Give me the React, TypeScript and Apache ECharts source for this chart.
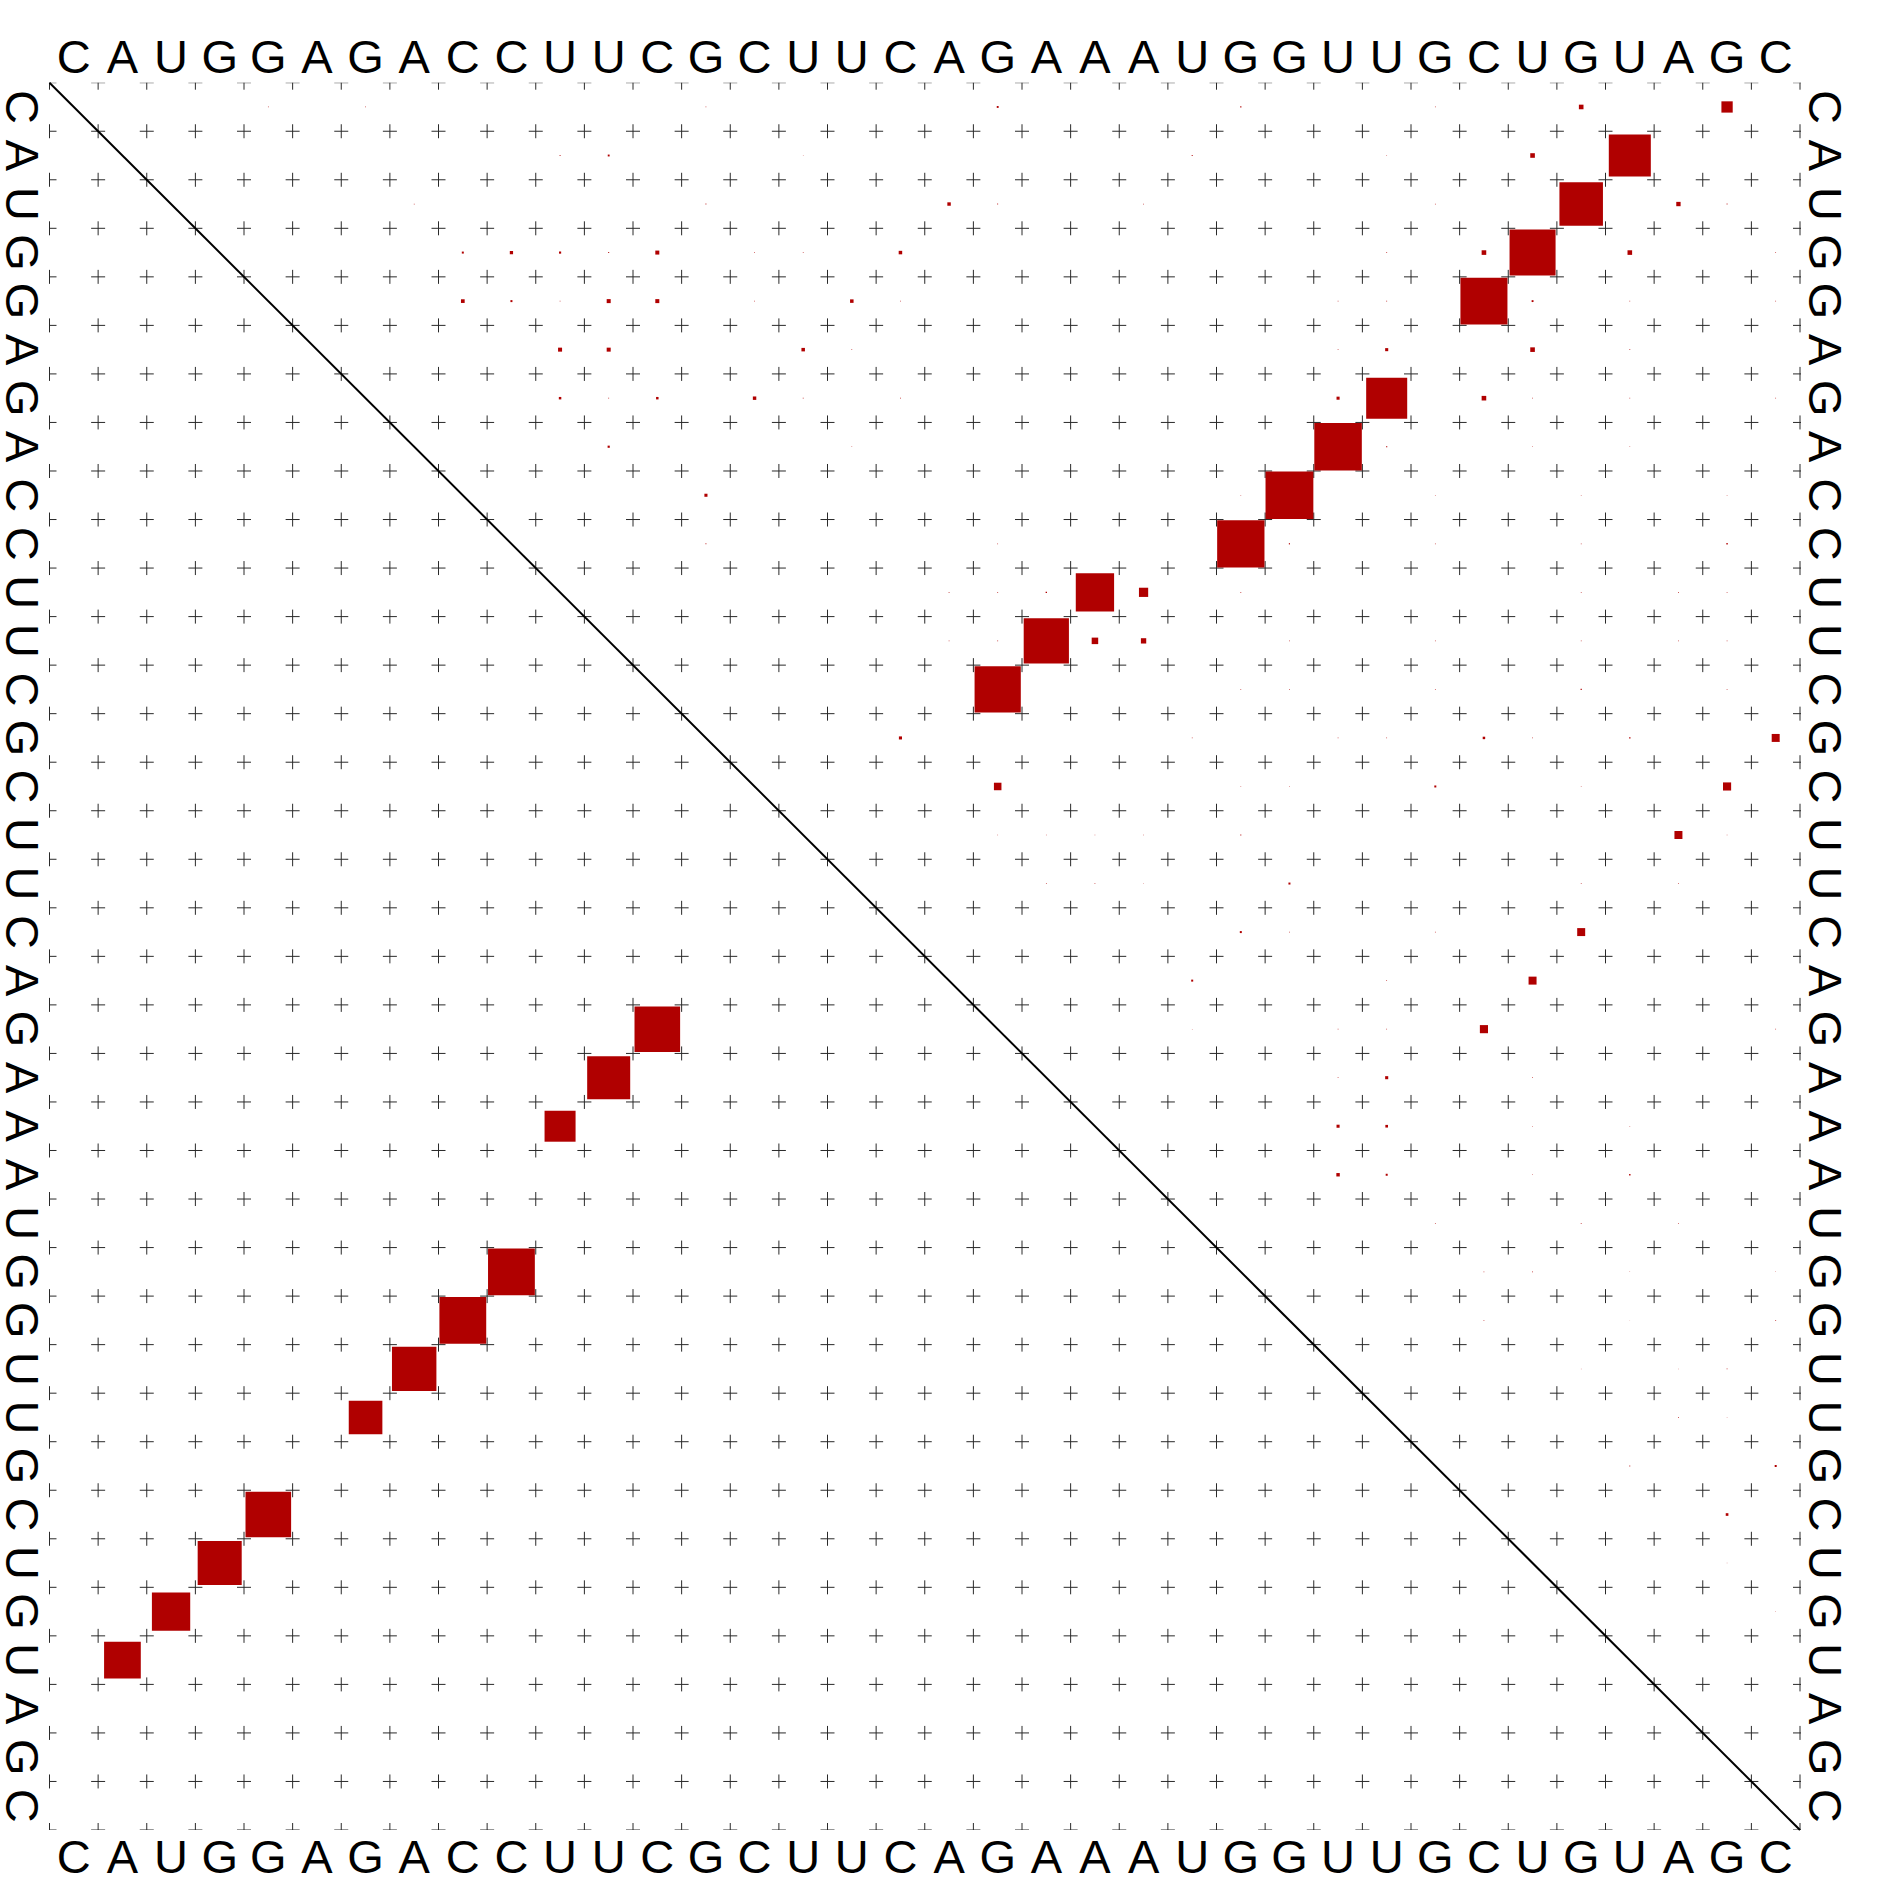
import React, { useEffect, useRef } from "react";
import * as echarts from "echarts";

const SEQUENCE = "CAUGGAGACCUUCGCUUCAGAAAUGGUUGCUGUAGC".split("");

// Upper triangle: base pair probabilities [i, j, p] (1-based, i < j)
const upperPairs: [number, number, number][] = [
  [1, 5, 0.0002], [1, 7, 0.0002], [1, 14, 0.0002], [1, 20, 0.0015], [1, 25, 0.0006], [1, 29, 0.0002], [1, 32, 0.009], [1, 35, 0.054],
  [2, 11, 0.0003], [2, 12, 0.0015], [2, 16, 0.0001], [2, 24, 0.0004], [2, 28, 0.0002], [2, 31, 0.009], [2, 33, 0.747],
  [3, 8, 0.0002], [3, 14, 0.0003], [3, 19, 0.005], [3, 20, 0.0003], [3, 23, 0.0002], [3, 29, 0.0002], [3, 32, 0.801], [3, 34, 0.008], [3, 35, 0.0003],
  [4, 9, 0.0017], [4, 10, 0.0045], [4, 11, 0.002], [4, 12, 0.0004], [4, 13, 0.0068], [4, 15, 0.0002], [4, 16, 0.0002], [4, 18, 0.0052], [4, 28, 0.0003], [4, 30, 0.009], [4, 31, 0.896], [4, 33, 0.009], [4, 36, 0.0002],
  [5, 9, 0.0058], [5, 10, 0.0017], [5, 11, 0.0002], [5, 12, 0.0068], [5, 13, 0.0068], [5, 15, 0.0002], [5, 17, 0.0052], [5, 18, 0.0002], [5, 27, 0.0002], [5, 28, 0.0003], [5, 30, 0.935], [5, 31, 0.0015], [5, 33, 0.0002], [5, 36, 0.0002],
  [6, 11, 0.0068], [6, 12, 0.0068], [6, 16, 0.0052], [6, 17, 0.0002], [6, 27, 0.0002], [6, 28, 0.004], [6, 31, 0.009], [6, 33, 0.0003],
  [7, 11, 0.0026], [7, 12, 0.0003], [7, 13, 0.0026], [7, 15, 0.005], [7, 16, 0.0003], [7, 18, 0.0003], [7, 27, 0.004], [7, 28, 0.712], [7, 30, 0.009], [7, 31, 0.0002], [7, 33, 0.0002], [7, 36, 0.0002],
  [8, 12, 0.002], [8, 17, 0.0002], [8, 27, 0.955], [8, 28, 0.0006], [8, 31, 0.0002], [8, 33, 0.0002],
  [9, 14, 0.004], [9, 25, 0.0002], [9, 26, 0.967], [9, 29, 0.0002], [9, 32, 0.0002], [9, 35, 0.0002],
  [10, 14, 0.0003], [10, 20, 0.0002], [10, 25, 0.947], [10, 26, 0.0006], [10, 29, 0.0002], [10, 32, 0.0002], [10, 35, 0.0008],
  [11, 19, 0.0003], [11, 20, 0.0003], [11, 21, 0.0008], [11, 22, 0.621], [11, 23, 0.036], [11, 25, 0.0003], [11, 32, 0.0002], [11, 34, 0.0003], [11, 35, 0.0002],
  [12, 19, 0.0002], [12, 20, 0.0003], [12, 21, 0.865], [12, 22, 0.018], [12, 23, 0.012], [12, 26, 0.0002], [12, 29, 0.0002], [12, 32, 0.0002], [12, 34, 0.0002], [12, 35, 0.0002],
  [13, 20, 0.904], [13, 25, 0.0002], [13, 26, 0.0002], [13, 29, 0.0002], [13, 32, 0.0006], [13, 35, 0.0002],
  [14, 18, 0.004], [14, 24, 0.0002], [14, 27, 0.0002], [14, 28, 0.0002], [14, 30, 0.0026], [14, 31, 0.0002], [14, 33, 0.0008], [14, 36, 0.027],
  [15, 20, 0.024], [15, 25, 0.0002], [15, 26, 0.0002], [15, 29, 0.0017], [15, 32, 0.0002], [15, 35, 0.028],
  [16, 20, 0.0002], [16, 21, 0.0002], [16, 22, 0.0002], [16, 23, 0.0002], [16, 25, 0.0004], [16, 34, 0.027], [16, 35, 0.0002],
  [17, 21, 0.0002], [17, 22, 0.0002], [17, 23, 0.0001], [17, 26, 0.0017], [17, 32, 0.0002], [17, 34, 0.0002],
  [18, 25, 0.0017], [18, 26, 0.0002], [18, 29, 0.0002], [18, 32, 0.027],
  [19, 24, 0.0017], [19, 28, 0.0002], [19, 31, 0.027],
  [20, 24, 0.0001], [20, 27, 0.0002], [20, 28, 0.0002], [20, 30, 0.028], [20, 36, 0.0002],
  [21, 27, 0.0002], [21, 28, 0.004], [21, 31, 0.0002],
  [22, 27, 0.004], [22, 28, 0.003], [22, 31, 0.0002], [22, 33, 0.0002],
  [23, 27, 0.005], [23, 28, 0.0017], [23, 31, 0.0002], [23, 33, 0.0008],
  [24, 29, 0.0002], [24, 32, 0.0003], [24, 34, 0.0002],
  [25, 30, 0.0002], [25, 31, 0.0003], [25, 33, 0.0001], [25, 36, 0.0001],
  [26, 30, 0.0002], [26, 33, 0.0001], [26, 36, 0.0003],
  [27, 32, 0.0001], [27, 34, 0.0001], [27, 35, 0.0003],
  [28, 34, 0.0003], [28, 35, 0.0001],
  [29, 33, 0.0003], [29, 36, 0.0017],
  [30, 35, 0.003],
  [31, 35, 0.0001],
  [32, 36, 0.0001],
];

// Lower triangle: structure pairs [i, j, p] drawn transposed
const lowerPairs: [number, number, number][] = [
  [2, 33, 0.57], [3, 32, 0.621], [4, 31, 0.82], [5, 30, 0.88],
  [7, 28, 0.478], [8, 27, 0.835], [9, 26, 0.927], [10, 25, 0.927],
  [11, 22, 0.407], [12, 21, 0.783], [13, 20, 0.88],
];

const BOX_COLOR = "#b00000";

export default function App() {
  const ref = useRef<HTMLDivElement>(null);
  useEffect(() => {
    const chart = echarts.init(ref.current as HTMLDivElement, null, { renderer: "svg" });
    const N = SEQUENCE.length;

    const crossData: number[][] = [];
    for (let a = 0; a <= N; a++) for (let b = 0; b <= N; b++) crossData.push([a, b]);

    const boxRender = (params: any, api: any) => {
      const c = api.coord([api.value(0), api.value(1)]);
      const s = api.size([api.value(2), api.value(2)]);
      const w = Math.abs(s[0]);
      const h = Math.abs(s[1]);
      return {
        type: "rect",
        shape: { x: c[0] - w / 2, y: c[1] - h / 2, width: w, height: h },
        style: { fill: BOX_COLOR },
      };
    };

    const FONT = '47px "Liberation Sans", Arial, Helvetica, sans-serif';

    chart.setOption({
      animation: false,
      backgroundColor: "#ffffff",
      grid: { left: 49.5, top: 82.7, width: 1750.5, height: 1747.3 },
      xAxis: { type: "value", min: 0, max: N, show: false },
      yAxis: { type: "value", min: 0, max: N, inverse: true, show: false },
      series: [
        {
          type: "custom",
          name: "grid",
          silent: true,
          clip: true,
          data: crossData,
          renderItem: (params: any, api: any) => {
            const c = api.coord([api.value(0), api.value(1)]);
            const L = 7;
            return {
              type: "group",
              children: [
                { type: "line", shape: { x1: c[0] - L, y1: c[1], x2: c[0] + L, y2: c[1] }, style: { stroke: "#2a2a2a", lineWidth: 1 } },
                { type: "line", shape: { x1: c[0], y1: c[1] - L, x2: c[0], y2: c[1] + L }, style: { stroke: "#2a2a2a", lineWidth: 1 } },
              ],
            };
          },
        },
        {
          type: "line",
          name: "diagonal",
          silent: true,
          symbol: "none",
          data: [[0, 0], [N, N]],
          lineStyle: { color: "#000000", width: 2 },
        },
        {
          type: "custom",
          name: "upper",
          silent: true,
          data: upperPairs.map(([i, j, p]) => [j - 0.5, i - 0.5, Math.sqrt(p)]),
          renderItem: boxRender,
        },
        {
          type: "custom",
          name: "lower",
          silent: true,
          data: lowerPairs.map(([i, j, p]) => [i - 0.5, j - 0.5, Math.sqrt(p)]),
          renderItem: boxRender,
        },
        {
          type: "custom",
          name: "sequence",
          silent: true,
          data: SEQUENCE.map((s, k) => [k + 0.5, k + 0.5]),
          renderItem: (params: any, api: any) => {
            const k = params.dataIndex;
            const letter = SEQUENCE[k];
            const cs = params.coordSys;
            const cx = api.coord([k + 0.5, 0])[0];
            const cy = api.coord([0, k + 0.5])[1];
            const st = { text: letter, font: FONT, fill: "#000", align: "center", verticalAlign: "middle" };
            return {
              type: "group",
              children: [
                { type: "text", x: cx, y: cs.y - 26.5, style: { ...st } },
                { type: "text", x: cx, y: cs.y + cs.height + 26, style: { ...st } },
                { type: "text", x: cs.x - 27, y: cy, rotation: -Math.PI / 2, style: { ...st } },
                { type: "text", x: cs.x + cs.width + 25.5, y: cy, rotation: -Math.PI / 2, style: { ...st } },
              ],
            };
          },
        },
      ],
    });
    return () => chart.dispose();
  }, []);
  return (
    <div
      ref={ref}
      style={{ position: "absolute", left: 0, top: 0, width: 1883, height: 1879 }}
    />
  );
}
